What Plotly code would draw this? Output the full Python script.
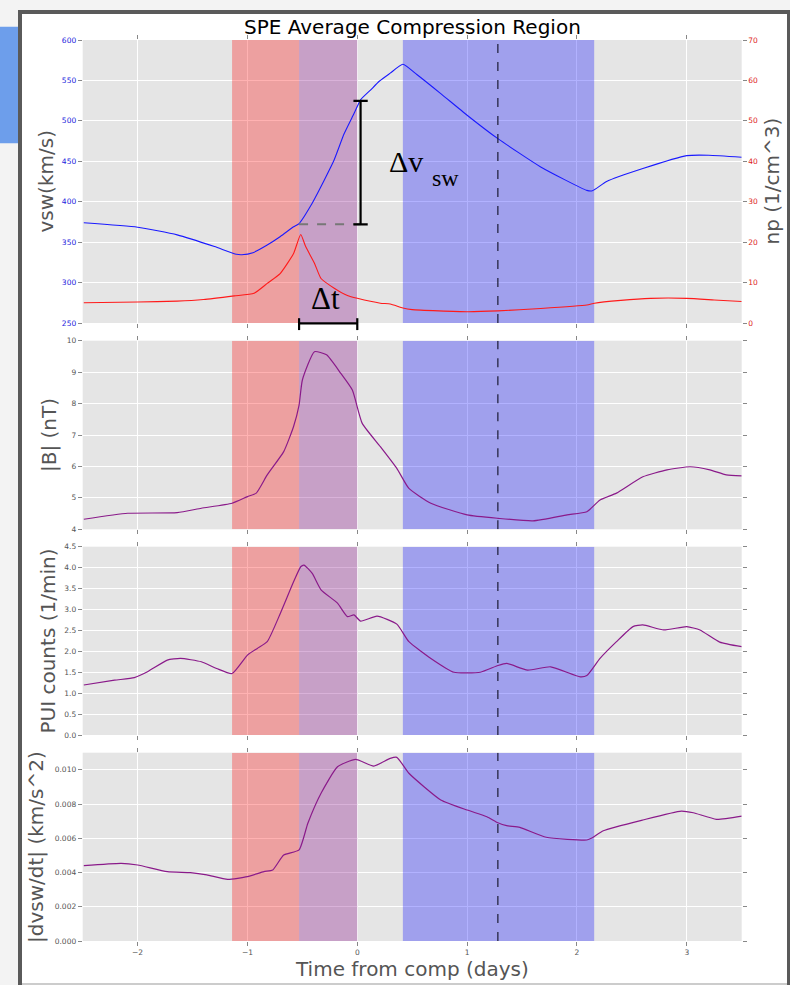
import plotly.graph_objects as go

# ---------------- data ----------------
# solar wind speed (km/s)
vsw_t = [-2.49, -2.0, -1.64, -1.30, -1.10, -1.05, -0.95, -0.82, -0.70, -0.58, -0.53,
         -0.42, -0.30, -0.21, -0.12, -0.03, 0.03, 0.12, 0.20, 0.30, 0.415, 0.545,
         0.757, 1.0, 1.28, 1.67, 2.09, 2.14, 2.27, 2.6, 3.0, 3.2, 3.5]
vsw_v = [374, 368.5, 359, 344.5, 335, 334.5, 337, 346.5, 357, 369, 373,
         396, 427, 452, 484, 509, 526, 538, 549, 559, 570, 557,
         534, 507, 478, 443, 414, 413.5, 425, 441, 457, 457.5, 455]

# proton density (1/cm^3)
np_t = [-2.49, -2.0, -1.64, -1.4, -1.12, -0.94, -0.82, -0.70, -0.58, -0.515, -0.47,
        -0.39, -0.33, -0.21, -0.09, 0.0, 0.21, 0.30, 0.415, 0.5, 1.0, 1.28, 1.67,
        2.09, 2.16, 2.4, 2.67, 3.0, 3.25, 3.5]
np_v = [5.0, 5.2, 5.4, 5.8, 6.7, 7.35, 9.8, 12.3, 17.2, 21.9, 18.9,
        14.8, 11.0, 8.6, 6.8, 6.1, 4.9, 4.7, 3.7, 3.3, 2.8, 3.0, 3.6,
        4.45, 4.9, 5.6, 6.1, 6.1, 5.7, 5.3]

# magnetic field magnitude (nT)
b_t = [-2.49, -2.09, -1.64, -1.42, -1.14, -1.0, -0.92, -0.82, -0.67, -0.58, -0.53,
       -0.50, -0.39, -0.28, -0.15, -0.045, 0.045, 0.21, 0.36, 0.47, 0.67, 1.0,
       1.28, 1.6, 1.91, 2.09, 2.21, 2.36, 2.6, 2.82, 3.03, 3.21, 3.36, 3.5]
b_v = [4.32, 4.51, 4.53, 4.67, 4.83, 5.04, 5.15, 5.73, 6.47, 7.27, 7.95,
       8.75, 9.65, 9.55, 8.96, 8.43, 7.37, 6.63, 5.94, 5.30, 4.83, 4.46,
       4.35, 4.27, 4.46, 4.56, 4.93, 5.15, 5.67, 5.89, 5.99, 5.89, 5.73, 5.70]

# pickup ion counts (1/min)
pui_t = [-2.49, -2.21, -2.03, -1.91, -1.73, -1.61, -1.42, -1.28, -1.14, -1.0, -0.91,
         -0.82, -0.70, -0.58, -0.515, -0.485, -0.41, -0.33, -0.18, -0.09, -0.03,
         0.03, 0.18, 0.36, 0.47, 0.67, 0.88, 1.12, 1.28, 1.36, 1.55, 1.76, 2.03,
         2.09, 2.21, 2.36, 2.51, 2.6, 2.79, 3.0, 3.12, 3.3, 3.5]
pui_v = [1.195, 1.31, 1.37, 1.51, 1.79, 1.83, 1.75, 1.59, 1.47, 1.91, 2.07,
         2.23, 2.91, 3.66, 4.02, 4.06, 3.86, 3.47, 3.15, 2.83, 2.87,
         2.72, 2.84, 2.65, 2.23, 1.83, 1.50, 1.50, 1.66, 1.71, 1.55, 1.63, 1.39,
         1.42, 1.83, 2.23, 2.59, 2.63, 2.51, 2.59, 2.51, 2.22, 2.11]

# |dvsw/dt| (km/s^2)
acc_t = [-2.49, -2.15, -2.0, -1.73, -1.52, -1.37, -1.18, -1.0, -0.85, -0.77, -0.67,
         -0.53, -0.45, -0.33, -0.18, -0.015, 0.15, 0.30, 0.36, 0.47, 0.76, 1.0,
         1.18, 1.28, 1.36, 1.48, 1.72, 2.09, 2.14, 2.24, 2.6, 2.95, 3.06, 3.27, 3.5]
acc_v = [0.00440, 0.00454, 0.00444, 0.00405, 0.00399, 0.00386, 0.00360, 0.00376,
         0.00405, 0.00415, 0.00502, 0.00532, 0.00688, 0.00863, 0.01018, 0.01061,
         0.01022, 0.01067, 0.01073, 0.00980, 0.00824, 0.00765, 0.00726, 0.00691,
         0.00674, 0.00664, 0.00606, 0.00590, 0.00603, 0.00644, 0.00707, 0.00759,
         0.00749, 0.00711, 0.00730]

# shaded intervals (days) and marker time
red_span = [-1.14, -0.53]
purple_span = [-0.53, 0.0]
blue_span = [0.415, 2.157]
mark_t = 1.28

# delta-v bracket (km/s) and delta-t bracket (days)
dv_t = 0.03
dv_lo, dv_hi = 372.0, 524.6
dt_span = [-0.53, 0.0]

x_ticks = [-2, -1, 0, 1, 2, 3]
y_ranges = {1: [250, 600], 2: [4, 10], 3: [0, 4.5], 4: [0, 0.011]}

# ---------------- layout helpers ----------------
W, H = 790, 985


def fx(p):
    return p / W


def fy(p):
    return 1 - p / H


XDOM = [fx(82.7), fx(741.7)]
YDOM = {
    1: [fy(323.0), fy(40.0)],
    2: [fy(529.3), fy(340.7)],
    3: [fy(735.0), fy(546.7)],
    4: [fy(941.0), fy(752.7)],
}

GRAY = "#555555"
FONT = "DejaVu Sans"
TICKFONT = dict(family=FONT, size=7.5, color=GRAY)

fig = go.Figure()

line_kw = dict(shape="spline", smoothing=0.5)
fig.add_trace(go.Scatter(x=vsw_t, y=vsw_v, mode="lines", xaxis="x", yaxis="y",
                         line=dict(color="#1a1aff", width=1.1, **line_kw), showlegend=False))
fig.add_trace(go.Scatter(x=np_t, y=np_v, mode="lines", xaxis="x", yaxis="y5",
                         line=dict(color="#ff1a1a", width=1.1, **line_kw), showlegend=False))
fig.add_trace(go.Scatter(x=b_t, y=b_v, mode="lines", xaxis="x2", yaxis="y2",
                         line=dict(color="#8a1a8a", width=1.2, **line_kw), showlegend=False))
fig.add_trace(go.Scatter(x=pui_t, y=pui_v, mode="lines", xaxis="x3", yaxis="y3",
                         line=dict(color="#8a1a8a", width=1.2, **line_kw), showlegend=False))
fig.add_trace(go.Scatter(x=acc_t, y=acc_v, mode="lines", xaxis="x4", yaxis="y4",
                         line=dict(color="#8a1a8a", width=1.2, **line_kw), showlegend=False))

axis_common = dict(showgrid=True, gridcolor="white", gridwidth=1, zeroline=False,
                   showline=False, ticks="outside", ticklen=4, tickwidth=1,
                   tickcolor="#888888", mirror="ticks", tickfont=TICKFONT,
                   automargin=False)

layout = dict(
    width=W, height=H,
    margin=dict(l=0, r=0, t=0, b=0),
    paper_bgcolor="white",
    plot_bgcolor="#e5e5e5",
    template="none",
    showlegend=False,
)

for i in range(1, 5):
    xname = "xaxis" if i == 1 else f"xaxis{i}"
    yname = "yaxis" if i == 1 else f"yaxis{i}"
    layout[xname] = dict(axis_common, domain=XDOM, range=[-2.5, 3.5],
                         tickvals=x_ticks, showticklabels=(i == 4),
                         anchor="y" if i == 1 else f"y{i}")
    layout[yname] = dict(axis_common, domain=YDOM[i], range=y_ranges[i],
                         anchor="x" if i == 1 else f"x{i}")

layout["yaxis"].update(tickvals=list(range(250, 601, 50)),
                       tickfont=dict(family=FONT, size=7.5, color="#2222dd"))
layout["yaxis5"] = dict(axis_common, overlaying="y", side="right", anchor="x",
                        range=[0, 70], tickvals=list(range(0, 71, 10)), showgrid=False,
                        mirror=False,
                        tickfont=dict(family=FONT, size=7.5, color="#dd2222"))
layout["yaxis2"].update(tickvals=list(range(4, 11)))
layout["yaxis3"].update(tickvals=[k * 0.5 for k in range(10)], tickformat=".1f")
layout["yaxis4"].update(tickvals=[k * 0.002 for k in range(6)], tickformat=".3f")

fig.update_layout(**layout)

shapes = []
# page decoration around the white card: grey margins, side tab and card border
PAGE = "#f3f3f3"
shapes.append(dict(type="rect", xref="paper", yref="paper", layer="below",
                   x0=0, x1=fx(20), y0=0, y1=1, fillcolor=PAGE, line=dict(width=0)))
shapes.append(dict(type="rect", xref="paper", yref="paper", layer="below",
                   x0=0, x1=1, y0=fy(12), y1=1, fillcolor=PAGE, line=dict(width=0)))
shapes.append(dict(type="rect", xref="paper", yref="paper", layer="below",
                   x0=fx(0), x1=fx(19), y0=fy(143.3), y1=fy(26.7),
                   fillcolor="#6d9eeb", line=dict(width=0)))
BORDER = dict(color="#5a5a5a", width=4)
shapes.append(dict(type="line", xref="paper", yref="paper", layer="below",
                   x0=fx(20), x1=fx(20), y0=fy(1000), y1=fy(12), line=BORDER))
shapes.append(dict(type="line", xref="paper", yref="paper", layer="below",
                   x0=fx(18), x1=fx(791), y0=fy(12), y1=fy(12), line=BORDER))
shapes.append(dict(type="line", xref="paper", yref="paper", layer="below",
                   x0=fx(789), x1=fx(789), y0=fy(1000), y1=fy(12), line=BORDER))
shapes.append(dict(type="line", xref="paper", yref="paper", layer="below",
                   x0=fx(22), x1=fx(787), y0=fy(984), y1=fy(984),
                   line=dict(color="#cccccc", width=2)))

for i in range(1, 5):
    xr = "x" if i == 1 else f"x{i}"
    yr = "y" if i == 1 else f"y{i}"
    y0, y1 = y_ranges[i]
    for span, col in ((red_span, "rgba(255,0,0,0.3)"),
                      (purple_span, "rgba(128,0,128,0.3)"),
                      (blue_span, "rgba(0,0,255,0.3)")):
        shapes.append(dict(type="rect", xref=xr, yref=yr, layer="between",
                           x0=span[0], x1=span[1], y0=y0, y1=y1,
                           fillcolor=col, line=dict(width=0)))
    shapes.append(dict(type="line", xref=xr, yref=yr, x0=mark_t, x1=mark_t, y0=y0, y1=y1,
                       line=dict(color="#1a1a33", width=1.2, dash="dash")))

# delta-v bracket
cap = 0.065
shapes.append(dict(type="line", xref="x", yref="y", x0=purple_span[0], x1=dv_t,
                   y0=dv_lo, y1=dv_lo, line=dict(color="#777777", width=2, dash="dash")))
shapes.append(dict(type="line", xref="x", yref="y", x0=dv_t, x1=dv_t,
                   y0=dv_lo, y1=dv_hi, line=dict(color="black", width=2.2)))
for yv in (dv_lo, dv_hi):
    shapes.append(dict(type="line", xref="x", yref="y", x0=dv_t - cap, x1=dv_t + cap,
                       y0=yv, y1=yv, line=dict(color="black", width=2.2)))
# delta-t bracket
shapes.append(dict(type="line", xref="x", yref="y domain", x0=dt_span[0], x1=dt_span[1],
                   y0=-0.001, y1=-0.001, line=dict(color="black", width=2.2)))
for xv in dt_span:
    shapes.append(dict(type="line", xref="x", yref="y domain", x0=xv, x1=xv,
                       y0=0.017, y1=-0.025, line=dict(color="black", width=2.2)))

fig.update_layout(shapes=shapes)

ann = []


def label(text, x, y, size=20, angle=0, color=GRAY, family=FONT, xanchor="center"):
    ann.append(dict(text=text, x=fx(x), y=fy(y), xref="paper", yref="paper",
                    showarrow=False, textangle=angle, xanchor=xanchor, yanchor="middle",
                    font=dict(family=family, size=size, color=color)))


label("SPE Average Compression Region", 412.2, 27, size=20, color="black")
label("vsw(km/s)", 45, 181.5, angle=-90)
label("np (1/cm^3)", 771, 181.5, angle=-90)
label("|B| (nT)", 49, 435, angle=-90)
label("PUI counts (1/min)", 47.5, 641, angle=-90)
label("|dvsw/dt| (km/s^2)", 36, 847, angle=-90)
label("Time from comp (days)", 412, 969)
label("Δv", 387, 162, size=30, color="black", family="Liberation Serif", xanchor="left")
label("sw", 430, 178, size=24, color="black", family="Liberation Serif", xanchor="left")
label("Δt", 309, 299, size=31, color="black", family="Liberation Serif", xanchor="left")

fig.update_layout(annotations=ann)

fig.write_html("out.html")
